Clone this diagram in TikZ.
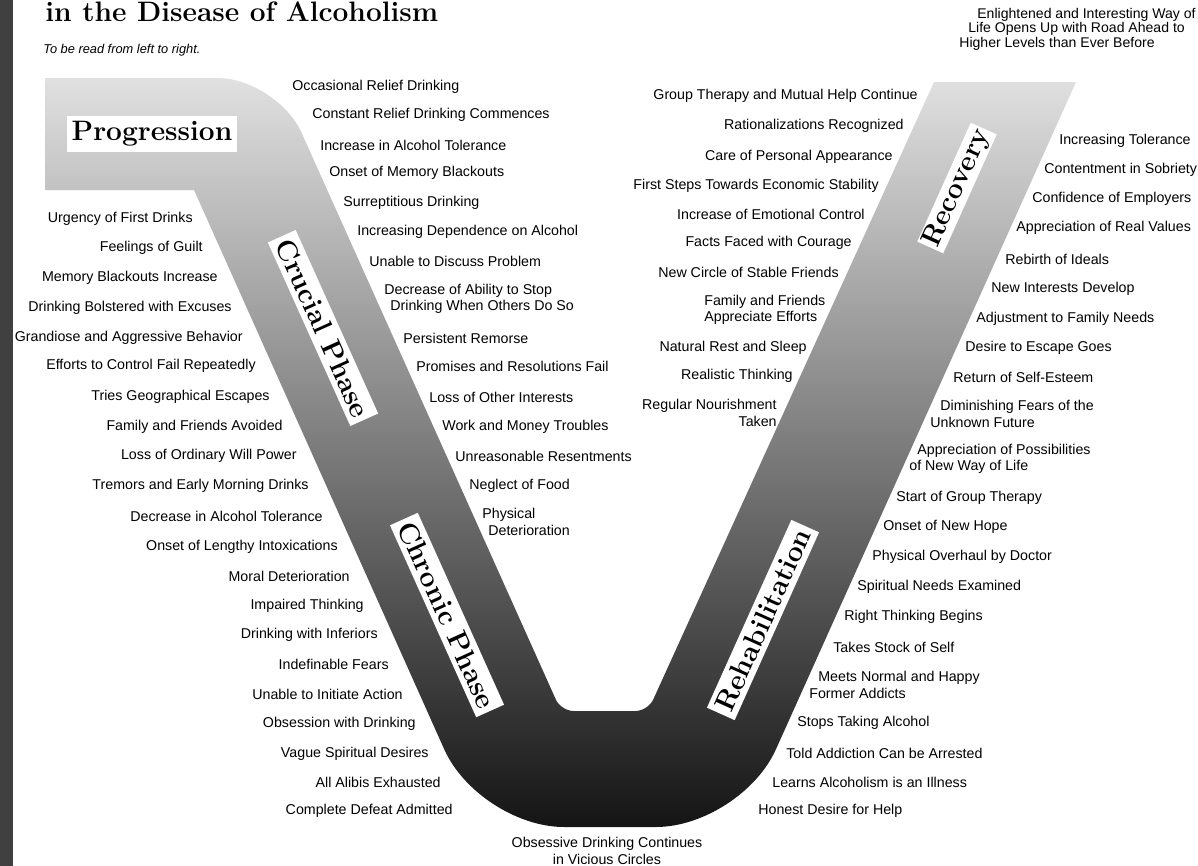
\documentclass[tikz,border=0pt]{standalone}
\usepackage{fontspec}
\usepackage{tikz}
\newfontfamily\labelsans{Liberation Sans}
\tikzset{
  lbl/.style={font=\labelsans\fontsize{8.1}{9.4}\selectfont, inner sep=0pt},
  phase/.style={font=\fontsize{16}{18}\selectfont\bfseries, fill=white, inner xsep=2.5pt, inner ysep=3pt},
}

\begin{document}
\begin{tikzpicture}[x=0.02cm, y=-0.02cm]
    \useasboundingbox (0,0) rectangle (1198,866);
    % Draw the dark strip on the left edge
    \fill[black!75] (0,0) rectangle (13,866);
    % Draw the title and the reading note
    \node[anchor=base west, font=\fontsize{16}{18}\selectfont\bfseries, inner sep=0pt] (title) at (45,21) {in the Disease of Alcoholism};
    \node[anchor=west, font=\labelsans\itshape\fontsize{7.3}{8}\selectfont, inner sep=0pt] (readnote) at (43,50) {To be read from left to right.};
    % Draw the shaded band of the curve
    \shade[top color=black!12, middle color=black!52, bottom color=black!92]
      (45,78) [rounded corners=1.2cm] -- (277,78) [rounded corners=0.25cm] -- (561,711) -- (648,711)
      [sharp corners] -- (934,82) -- (1076,82) [rounded corners=1.7cm] -- (741,827) -- (479,827)
      [sharp corners] -- (194,190) -- (45,190) -- cycle;
    % Draw the phase names on the band
    \node[phase] (progression) at (152,134) {Progression};
    \node[phase, rotate=-65.8] (crucial) at (323,328) {Crucial Phase};
    \node[phase, rotate=-65.8] (chronic) at (447,615) {Chronic Phase};
    \node[phase, rotate=65.8] (rehab) at (763,620) {Rehabilitation};
    \node[phase, rotate=65.8, inner xsep=1pt, inner ysep=1pt] (recovery) at (957,188) {Recovery};
    % Left column of symptoms
    \node[lbl, anchor=east] (urgency) at (193,219) {Urgency of First Drinks};
    \node[lbl, anchor=east] (guilt) at (203,248) {Feelings of Guilt};
    \node[lbl, anchor=east] (blackinc) at (218,278) {Memory Blackouts Increase};
    \node[lbl, anchor=east] (excuses) at (232,308) {Drinking Bolstered with Excuses};
    \node[lbl, anchor=east] (grandiose) at (243,338) {Grandiose and Aggressive Behavior};
    \node[lbl, anchor=east] (efforts) at (256,366) {Efforts to Control Fail Repeatedly};
    \node[lbl, anchor=east] (escapes) at (270,397) {Tries Geographical Escapes};
    \node[lbl, anchor=east] (avoided) at (283,427) {Family and Friends Avoided};
    \node[lbl, anchor=east] (willpower) at (297,456) {Loss of Ordinary Will Power};
    \node[lbl, anchor=east] (tremors) at (309,486) {Tremors and Early Morning Drinks};
    \node[lbl, anchor=east] (tolerdec) at (323,516) {Decrease in Alcohol Tolerance};
    \node[lbl, anchor=east] (lengthy) at (338,547) {Onset of Lengthy Intoxications};
    \node[lbl, anchor=east] (moral) at (350,576) {Moral Deterioration};
    \node[lbl, anchor=east] (impaired) at (364,606) {Impaired Thinking};
    \node[lbl, anchor=east] (inferiors) at (378,635) {Drinking with Inferiors};
    \node[lbl, anchor=east] (fears) at (389,664) {Indefinable Fears};
    \node[lbl, anchor=east] (action) at (403,694) {Unable to Initiate Action};
    \node[lbl, anchor=east] (obsession) at (416,724) {Obsession with Drinking};
    \node[lbl, anchor=east] (vague) at (429,754) {Vague Spiritual Desires};
    \node[lbl, anchor=east] (alibis) at (441,782) {All Alibis Exhausted};
    \node[lbl, anchor=east] (defeat) at (453,811) {Complete Defeat Admitted};
    % Inner column of the falling arm
    \node[lbl, anchor=west] (occasional) at (292,87) {Occasional Relief Drinking};
    \node[lbl, anchor=west] (constant) at (312,115) {Constant Relief Drinking Commences};
    \node[lbl, anchor=west] (tolerinc) at (320,145) {Increase in Alcohol Tolerance};
    \node[lbl, anchor=west] (blackonset) at (329,173) {Onset of Memory Blackouts};
    \node[lbl, anchor=west] (surreptitious) at (343,203) {Surreptitious Drinking};
    \node[lbl, anchor=west] (dependence) at (357,232) {Increasing Dependence on Alcohol};
    \node[lbl, anchor=west] (discuss) at (369,261) {Unable to Discuss Problem};
    \node[lbl, anchor=west, align=left] (ability) at (384,299) {Decrease of Ability to Stop\\\hspace*{0.12cm}Drinking When Others Do So};
    \node[lbl, anchor=west] (remorse) at (403,338) {Persistent Remorse};
    \node[lbl, anchor=west] (promises) at (416,366) {Promises and Resolutions Fail};
    \node[lbl, anchor=west] (interests) at (429,397) {Loss of Other Interests};
    \node[lbl, anchor=west] (money) at (442,427) {Work and Money Troubles};
    \node[lbl, anchor=west] (resent) at (455,456) {Unreasonable Resentments};
    \node[lbl, anchor=west] (food) at (469,486) {Neglect of Food};
    \node[lbl, anchor=west, align=left] (physical) at (482,522) {Physical\\\hspace*{0.12cm}Deterioration};
    % Inner column of the rising arm
    \node[lbl, anchor=east] (grouphelp) at (918,96) {Group Therapy and Mutual Help Continue};
    \node[lbl, anchor=east] (rational) at (904,126) {Rationalizations Recognized};
    \node[lbl, anchor=east] (appearance) at (893,157) {Care of Personal Appearance};
    \node[lbl, anchor=east] (economic) at (879,186) {First Steps Towards Economic Stability};
    \node[lbl, anchor=east] (emotional) at (865,214) {Increase of Emotional Control};
    \node[lbl, anchor=east] (courage) at (852,243) {Facts Faced with Courage};
    \node[lbl, anchor=east] (stable) at (839,272) {New Circle of Stable Friends};
    \node[lbl, anchor=west, align=left] (appreciate) at (704,310) {Family and Friends\\Appreciate Efforts};
    \node[lbl, anchor=east] (rest) at (807,348) {Natural Rest and Sleep};
    \node[lbl, anchor=east] (realistic) at (793,376) {Realistic Thinking};
    \node[lbl, anchor=east, align=right] (nourish) at (777,413) {Regular Nourishment\\Taken};
    % Right column of recovery
    \node[lbl, anchor=west] (tolerance) at (1059,141) {Increasing Tolerance};
    \node[lbl, anchor=west] (sobriety) at (1044,170) {Contentment in Sobriety};
    \node[lbl, anchor=west] (employers) at (1032,199) {Confidence of Employers};
    \node[lbl, anchor=west] (values) at (1016,228) {Appreciation of Real Values};
    \node[lbl, anchor=west] (ideals) at (1005,259) {Rebirth of Ideals};
    \node[lbl, anchor=west] (newint) at (991,289) {New Interests Develop};
    \node[lbl, anchor=west] (familyneeds) at (976,319) {Adjustment to Family Needs};
    \node[lbl, anchor=west] (escape) at (965,348) {Desire to Escape Goes};
    \node[lbl, anchor=west] (esteem) at (953,377) {Return of Self-Esteem};
    \node[lbl, anchor=west, align=left] (unknown) at (930,414) {\hspace*{0.2cm}Diminishing Fears of the\\Unknown Future};
    \node[lbl, anchor=west, align=left] (possib) at (909,459) {\hspace*{0.16cm}Appreciation of Possibilities\\of New Way of Life};
    \node[lbl, anchor=west] (startgroup) at (896,498) {Start of Group Therapy};
    \node[lbl, anchor=west] (hope) at (883,527) {Onset of New Hope};
    \node[lbl, anchor=west] (overhaul) at (872,557) {Physical Overhaul by Doctor};
    \node[lbl, anchor=west] (spiritual) at (857,587) {Spiritual Needs Examined};
    \node[lbl, anchor=west] (rightthink) at (844,617) {Right Thinking Begins};
    \node[lbl, anchor=west] (stock) at (833,647) {Takes Stock of Self};
    \node[lbl, anchor=west, align=left] (normal) at (809,685) {\hspace*{0.18cm}Meets Normal and Happy\\Former Addicts};
    \node[lbl, anchor=west] (stops) at (797,723) {Stops Taking Alcohol};
    \node[lbl, anchor=west] (arrested) at (786,753) {Told Addiction Can be Arrested};
    \node[lbl, anchor=west] (illness) at (772,782) {Learns Alcoholism is an Illness};
    \node[lbl, anchor=west] (honest) at (758,811) {Honest Desire for Help};
    % Bottom of the curve and the road ahead
    \node[lbl, align=center] (vicious) at (607,851) {Obsessive Drinking Continues\\in Vicious Circles};
    \node[lbl, anchor=north west, align=left, font=\labelsans\fontsize{8}{8.2}\selectfont] (road) at (959,8) {\hspace*{0.36cm}Enlightened and Interesting Way of\\\hspace*{0.18cm}Life Opens Up with Road Ahead to\\Higher Levels than Ever Before};
\end{tikzpicture}
\end{document}
